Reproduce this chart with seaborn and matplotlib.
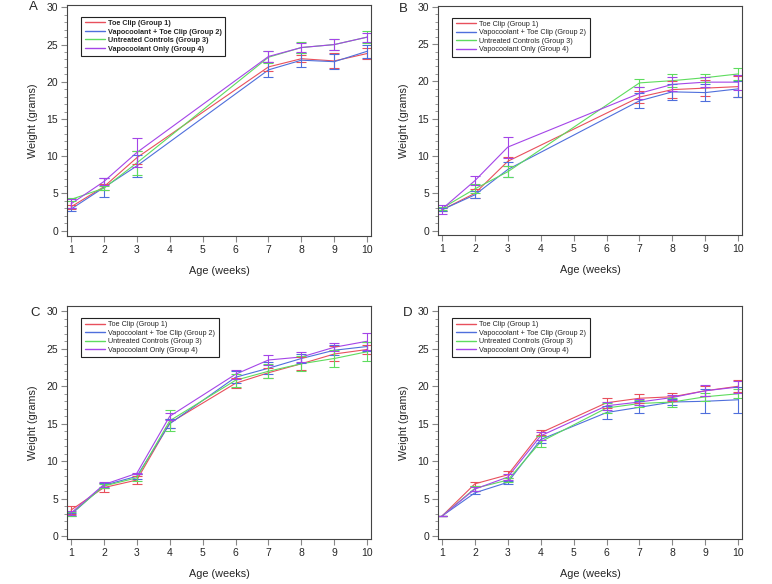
import numpy as np
import pandas as pd
import matplotlib
matplotlib.use('Agg')
import matplotlib.pyplot as plt
import seaborn as sns
from matplotlib.ticker import MultipleLocator

sns.set_style('ticks')
plt.rcParams['font.family'] = ['Liberation Sans', 'DejaVu Sans']

groups = ['Toe Clip (Group 1)', 'Vapocoolant + Toe Clip (Group 2)',
          'Untreated Controls (Group 3)', 'Vapocoolant Only (Group 4)']
colors = ['#E8505C', '#4F6FDC', '#5EDC5E', '#A445E8']

weeks_ab = [1, 2, 3, 7, 8, 9, 10]
weeks_cd = [1, 2, 3, 4, 6, 7, 8, 9, 10]

# panel A: means and error half-widths per group
a_mean = [
    [3.2, 5.9, 9.8, 22.0, 23.1, 22.8, 23.8],
    [2.9, 5.8, 8.7, 21.6, 22.9, 22.7, 24.1],
    [4.2, 5.7, 9.1, 23.3, 24.6, 25.0, 26.0],
    [3.6, 6.6, 10.5, 23.4, 24.6, 25.0, 26.0],
]
a_err = [
    [0.3, 0.4, 0.9, 0.6, 0.5, 1.0, 0.8],
    [0.2, 1.3, 1.5, 1.0, 0.9, 1.0, 0.9],
    [0.2, 0.3, 1.6, 0.8, 0.7, 0.7, 0.8],
    [0.6, 0.5, 1.9, 0.7, 0.6, 0.7, 0.6],
]

# panel B
b_mean = [
    [2.8, 5.0, 9.3, 17.9, 18.9, 19.1, 19.3],
    [2.8, 4.8, 8.2, 17.4, 18.6, 18.5, 19.0],
    [3.0, 5.6, 7.9, 19.8, 20.1, 20.5, 21.0],
    [2.9, 6.7, 11.2, 18.4, 19.6, 19.9, 19.9],
]
b_err = [
    [0.2, 0.65, 0.6, 0.8, 1.1, 1.1, 1.4],
    [0.2, 0.45, 0.95, 1.0, 1.1, 1.15, 1.05],
    [0.2, 0.6, 0.7, 0.55, 0.85, 0.55, 0.8],
    [0.6, 0.6, 1.4, 0.8, 0.95, 0.65, 1.0],
]

# panel C
c_mean = [
    [3.5, 6.5, 7.5, 15.1, 20.4, 21.8, 23.0, 24.3, 24.9],
    [2.9, 6.8, 8.0, 15.0, 21.2, 22.4, 23.7, 24.8, 25.3],
    [3.0, 6.7, 7.8, 15.4, 20.8, 22.0, 23.0, 23.7, 24.6],
    [3.1, 6.9, 8.4, 16.0, 21.6, 23.5, 23.9, 25.2, 26.0],
]
c_err = [
    [0.5, 0.55, 0.5, 0.6, 0.65, 0.65, 0.85, 1.0, 0.65],
    [0.2, 0.3, 0.3, 0.6, 0.8, 0.8, 0.6, 0.65, 0.65],
    [0.3, 0.3, 0.45, 1.4, 0.85, 0.95, 1.0, 1.15, 1.3],
    [0.3, 0.3, 0.1, 0.5, 0.6, 0.65, 0.7, 0.55, 1.15],
]

# panel D
d_mean = [
    [2.7, 7.0, 8.2, 13.8, 17.8, 18.4, 18.6, 19.4, 20.0],
    [2.7, 5.8, 7.2, 12.9, 16.5, 17.2, 17.9, 18.0, 18.2],
    [2.7, 6.4, 7.5, 12.6, 17.1, 17.7, 17.9, 18.6, 19.0],
    [2.7, 6.3, 7.9, 13.4, 17.4, 17.9, 18.5, 19.4, 19.9],
]
d_err = [
    [0.0, 0.3, 0.45, 0.35, 0.65, 0.6, 0.5, 0.7, 0.8],
    [0.0, 0.2, 0.2, 0.5, 0.9, 0.8, 0.4, 1.6, 1.7],
    [0.0, 0.3, 0.3, 0.75, 0.65, 0.5, 0.6, 0.5, 0.6],
    [0.0, 0.3, 0.4, 0.5, 0.55, 0.35, 0.35, 0.75, 0.75],
]

panels = [
    ('A', weeks_ab, a_mean, a_err, [0.0868, 0.5959, 0.394, 0.3955], (-0.71, 30.31), 'bold', (-0.112, 0.99)),
    ('B', weeks_ab, b_mean, b_err, [0.5674, 0.5976, 0.394, 0.3921], (-0.58, 30.1), 'normal', (-0.115, 0.985)),
    ('C', weeks_cd, c_mean, c_err, [0.0868, 0.0771, 0.394, 0.3990], (-0.35, 30.7), 'normal', (-0.105, 0.97)),
    ('D', weeks_cd, d_mean, d_err, [0.5674, 0.0771, 0.394, 0.3990], (-0.35, 30.7), 'normal', (-0.10, 0.97)),
]

fig = plt.figure(figsize=(7.72, 5.84), dpi=100)
edge = '#444444'

for letter, weeks, means, errs, pos, ylim, lw_font, lpos in panels:
    ax = fig.add_axes(pos)
    rows = []
    for g, m in zip(groups, means):
        for w, v in zip(weeks, m):
            rows.append({'week': w, 'weight': v, 'group': g})
    df = pd.DataFrame(rows)
    sns.lineplot(data=df, x='week', y='weight', hue='group', hue_order=groups,
                 palette=dict(zip(groups, colors)), linewidth=0.8, ax=ax, errorbar=None)
    for g, m, e, c in zip(groups, means, errs, colors):
        ax.errorbar(weeks, m, yerr=e, fmt='none', ecolor=c, elinewidth=0.8,
                    capsize=3.3, capthick=0.8)
    ax.set_xlim(0.88, 10.12)
    ax.set_ylim(*ylim)
    ax.set_xticks(range(1, 11))
    ax.set_yticks(range(0, 31, 5))
    ax.yaxis.set_minor_locator(MultipleLocator(1))
    ax.tick_params(axis='both', which='major', labelsize=7.5, length=4.5,
                   width=0.8, color='#888888', pad=2)
    ax.tick_params(axis='y', which='minor', length=2.5, width=0.6, color='#888888')
    for s in ax.spines.values():
        s.set_color(edge)
        s.set_linewidth(0.8)
    ax.set_xlabel('Age (weeks)', fontsize=7.8, labelpad=8)
    ax.set_ylabel('Weight (grams)', fontsize=7.8, labelpad=6)
    leg = ax.legend(loc='upper left', bbox_to_anchor=(0.035, 0.965),
                    handlelength=2.8, labelspacing=0.2, borderpad=0.45,
                    handletextpad=0.5, fancybox=False, framealpha=1,
                    edgecolor='#222222', prop={'weight': lw_font, 'size': 5.2})
    leg.get_frame().set_linewidth(0.8)
    for ln, c in zip(leg.get_lines(), colors):
        ln.set_linewidth(1.0)
        ln.set_color(c)
    ax.text(lpos[0], lpos[1], letter, transform=ax.transAxes, fontsize=9.5,
            ha='center', va='center')

plt.savefig('out.png', dpi=100)
